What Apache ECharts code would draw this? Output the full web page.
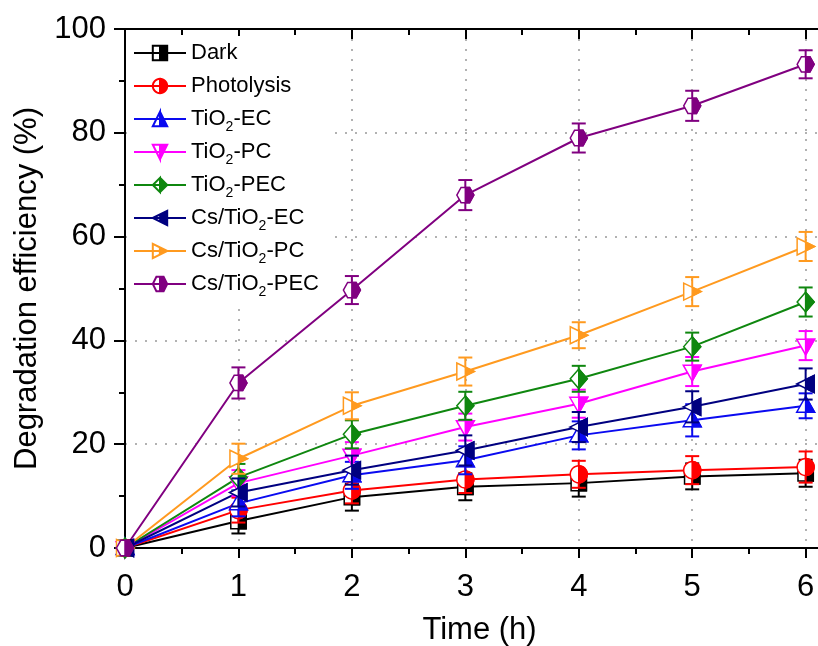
<!DOCTYPE html>
<html>
<head>
<meta charset="utf-8">
<title>Degradation efficiency</title>
<script src="https://cdn.jsdelivr.net/npm/echarts@6/dist/echarts.min.js"></script>
<style>
  html, body { margin: 0; padding: 0; background: #fff; }
  #myChart { width: 818px; height: 646px; }
</style>
</head>
<body>
<div id="myChart"></div>
<script>
// time points (h)
var times = [0, 1, 2, 3, 4, 5, 6]
var xTickLabels = [0, 1, 2, 3, 4, 5, 6]
var yTickLabels = [0, 20, 40, 60, 80, 100]

var seriesNames = ['Dark', 'Photolysis', 'TiO2-EC', 'TiO2-PC', 'TiO2-PEC', 'Cs/TiO2-EC', 'Cs/TiO2-PC', 'Cs/TiO2-PEC']

// degradation efficiency (%) and error bars
var dark = [0, 5.2, 9.8, 11.8, 12.5, 13.8, 14.4]
var darkErr = [0.3, 2.4, 2.6, 2.6, 2.6, 2.5, 2.6]
var photolysis = [0, 7.3, 11.1, 13.2, 14.2, 15.0, 15.6]
var photolysisErr = [0.3, 2.4, 2.5, 2.6, 2.6, 2.7, 3.0]
var tio2EC = [0, 8.6, 14.0, 16.9, 21.7, 24.6, 27.4]
var tio2ECErr = [0.3, 2.5, 2.6, 2.7, 2.7, 3.1, 2.4]
var tio2PC = [0, 12.5, 17.8, 23.3, 27.8, 34.0, 39.0]
var tio2PCErr = [0.3, 2.5, 2.6, 2.6, 2.7, 2.8, 2.8]
var tio2PEC = [0, 13.6, 21.9, 27.4, 32.6, 38.8, 47.4]
var tio2PECErr = [0.3, 2.6, 2.7, 2.7, 2.5, 2.7, 2.8]
var csEC = [0, 10.7, 15.0, 18.8, 23.3, 27.2, 31.6]
var csECErr = [0.3, 2.7, 2.8, 2.9, 2.9, 3.0, 3.0]
var csPC = [0, 17.2, 27.4, 34.0, 41.0, 49.4, 58.1]
var csPCErr = [0.3, 2.9, 2.6, 2.7, 2.5, 2.8, 2.8]
var csPEC = [0, 31.8, 49.7, 68.0, 79.0, 85.2, 93.2]
var csPECErr = [0.3, 3.0, 2.7, 2.9, 2.8, 2.9, 2.7]

var values = [dark, photolysis, tio2EC, tio2PC, tio2PEC, csEC, csPC, csPEC]
var errors = [darkErr, photolysisErr, tio2ECErr, tio2PCErr, tio2PECErr, csECErr, csPCErr, csPECErr]
var colors = ['#000000', '#FF0000', '#0A0AF0', '#FF00FF', '#0F870F', '#000080', '#FF9A1F', '#800080']
var shapeNames = ['square', 'circle', 'up', 'down', 'diamond', 'left', 'right', 'hex']

var FONT = '"Liberation Sans", Arial, sans-serif'

// marker outlines in unit coords: full shape, right (filled) half, left half
function circlePts(a0, a1, n) {
  var pts = []
  for (var i = 0; i <= n; i++) {
    var a = (a0 + (a1 - a0) * i / n) * Math.PI / 180
    pts.push([Math.cos(a), Math.sin(a)])
  }
  return pts
}
var SHAPES = {
  square: { full: [[-0.9, -0.9], [0.9, -0.9], [0.9, 0.9], [-0.9, 0.9]], half: [[0, -0.9], [0.9, -0.9], [0.9, 0.9], [0, 0.9]], left: [[-0.9, -0.9], [0, -0.9], [0, 0.9], [-0.9, 0.9]] },
  circle: { full: circlePts(0, 360, 32).slice(0, 32), half: circlePts(-90, 90, 16), left: circlePts(90, 270, 16) },
  up: { full: [[0, -1.1], [1.05, 0.75], [-1.05, 0.75]], half: [[0, -1.1], [1.05, 0.75], [0, 0.75]], left: [[0, -1.1], [0, 0.75], [-1.05, 0.75]] },
  down: { full: [[0, 1.1], [1.05, -0.75], [-1.05, -0.75]], half: [[0, 1.1], [1.05, -0.75], [0, -0.75]], left: [[0, 1.1], [0, -0.75], [-1.05, -0.75]] },
  diamond: { full: [[0, -1.15], [1, 0], [0, 1.15], [-1, 0]], half: [[0, -1.15], [1, 0], [0, 1.15]], left: [[0, -1.15], [0, 1.15], [-1, 0]] },
  left: { full: [[-1.05, 0], [1, -1], [1, 1]], half: [[0, -0.51], [1, -1], [1, 1], [0, 0.51]], left: [[-1.05, 0], [0, -0.51], [0, 0.51]] },
  right: { full: [[1.05, 0], [-1, -1], [-1, 1]], half: [[0, -0.51], [1.05, 0], [0, 0.51]], left: [[-1, -1], [0, -0.51], [0, 0.51], [-1, 1]] },
  hex: { full: [[-1, 0], [-0.5, -0.9], [0.5, -0.9], [1, 0], [0.5, 0.9], [-0.5, 0.9]], half: [[0, -0.9], [0.5, -0.9], [1, 0], [0.5, 0.9], [0, 0.9]], left: [[0, -0.9], [-0.5, -0.9], [-1, 0], [-0.5, 0.9], [0, 0.9]] }
}

function area(p) {
  var s = 0
  for (var i = 0; i < p.length; i++) {
    var a = p[i], b = p[(i + 1) % p.length]
    s += a[0] * b[1] - b[0] * a[1]
  }
  return s
}
function toPath(p) {
  return p.map(function (q, i) {
    return (i ? 'L' : 'M') + (q[0] * 10).toFixed(2) + ' ' + (q[1] * 10).toFixed(2)
  }).join(' ') + ' Z '
}
// legend symbol: full outline + reversed left half, so only the right half gets filled
function legendSymbol(name) {
  var s = SHAPES[name]
  var left = s.left.slice()
  if ((area(left) > 0) === (area(s.full) > 0)) left.reverse()
  return 'path://' + toPath(s.full) + toPath(left)
}

function scalePts(pts, c, r) {
  return pts.map(function (p) { return [c[0] + p[0] * r, c[1] + p[1] * r] })
}

function makeRenderItem(shapeName, color) {
  var s = SHAPES[shapeName]
  return function (params, api) {
    var x = api.value(0), y = api.value(1), e = api.value(2)
    var c = api.coord([x, y])
    var top = api.coord([x, y + e])[1]
    var bot = api.coord([x, y - e])[1]
    var r = 8.5, w = 7
    var st = { stroke: color, lineWidth: 2 }
    return {
      type: 'group',
      children: [
        { type: 'line', shape: { x1: c[0], y1: top, x2: c[0], y2: bot }, style: st },
        { type: 'line', shape: { x1: c[0] - w, y1: top, x2: c[0] + w, y2: top }, style: st },
        { type: 'line', shape: { x1: c[0] - w, y1: bot, x2: c[0] + w, y2: bot }, style: st },
        { type: 'polygon', shape: { points: scalePts(s.full, c, r) }, style: { fill: '#fff', stroke: color, lineWidth: 1.5 } },
        { type: 'polygon', shape: { points: scalePts(s.half, c, r) }, style: { fill: color, stroke: color, lineWidth: 1.5 } }
      ]
    }
  }
}

var series = []
seriesNames.forEach(function (name, i) {
  series.push({
    name: name,
    type: 'line',
    data: times.map(function (t, k) { return [t, values[i][k]] }),
    symbol: legendSymbol(shapeNames[i]),
    symbolKeepAspect: true,
    showSymbol: false,
    lineStyle: { color: colors[i], width: 2 },
    itemStyle: { color: colors[i], borderColor: colors[i], borderWidth: 1.2 },
    z: 2,
    animation: false
  })
})
seriesNames.forEach(function (name, i) {
  series.push({
    name: name + '_marks',
    type: 'custom',
    data: times.map(function (t, k) { return [t, values[i][k], errors[i][k]] }),
    encode: { x: 0, y: 1 },
    renderItem: makeRenderItem(shapeNames[i], colors[i]),
    z: 3,
    animation: false
  })
})

var axisLineStyle = { color: '#000', width: 2 }
var gridLineStyle = { color: '#999', width: 1.5, type: [2, 8] }

var option = {
  backgroundColor: '#fff',
  animation: false,
  grid: { left: 125, right: -16, top: 29, bottom: 98, outerBoundsMode: 'none' },
  legend: {
    data: seriesNames,
    orient: 'vertical',
    left: 127,
    top: 36,
    padding: [2, 10, 4, 6],
    backgroundColor: '#fff',
    itemWidth: 52,
    itemHeight: 18,
    itemGap: 3,
    selectedMode: false,
    formatter: function (name) { return name.replace('TiO2', 'TiO{sub|2}') },
    textStyle: {
      color: '#000',
      fontSize: 22,
      fontFamily: FONT,
      lineHeight: 30,
      rich: {
        sub: { fontSize: 14, fontFamily: FONT, color: '#000', lineHeight: 30, verticalAlign: 'bottom' }
      }
    }
  },
  xAxis: [
    {
      type: 'value',
      min: 0,
      max: 6.25,
      interval: 1,
      name: 'Time (h)',
      nameLocation: 'middle',
      nameGap: 67,
      nameTextStyle: { color: '#000', fontSize: 31, fontFamily: FONT },
      axisLine: { show: true, onZero: false, lineStyle: axisLineStyle },
      axisTick: { show: true, inside: false, length: 10, lineStyle: axisLineStyle },
      minorTick: { show: true, splitNumber: 2, length: 6, lineStyle: axisLineStyle },
      axisLabel: {
        color: '#000', fontSize: 31, fontFamily: FONT, margin: 24,
        formatter: function (v) { return xTickLabels.indexOf(v) >= 0 ? String(v) : '' }
      },
      splitLine: { show: true, lineStyle: gridLineStyle }
    },
    {
      type: 'value',
      position: 'top',
      min: 0,
      max: 6.25,
      interval: 1,
      axisLine: { show: true, onZero: false, lineStyle: axisLineStyle },
      axisTick: { show: true, inside: true, length: 10, lineStyle: axisLineStyle },
      minorTick: { show: true, splitNumber: 2, length: 6, lineStyle: axisLineStyle },
      axisLabel: { show: false },
      splitLine: { show: false }
    }
  ],
  yAxis: {
    type: 'value',
    min: 0,
    max: 100,
    interval: 20,
    name: 'Degradation efficiency (%)',
    nameLocation: 'middle',
    nameGap: 72,
    nameTextStyle: { color: '#000', fontSize: 31, fontFamily: FONT },
    axisLine: { show: true, onZero: false, lineStyle: axisLineStyle },
    axisTick: { show: true, inside: false, length: 11, lineStyle: axisLineStyle },
    minorTick: { show: true, splitNumber: 2, length: 6, lineStyle: axisLineStyle },
    axisLabel: {
      color: '#000', fontSize: 31, fontFamily: FONT, margin: 19,
      formatter: function (v) { return yTickLabels.indexOf(v) >= 0 ? String(v) : '' }
    },
    splitLine: { show: true, lineStyle: gridLineStyle }
  },
  series: series
}

var chart = echarts.init(document.getElementById('myChart'))
chart.setOption(option)
</script>
</body>
</html>
